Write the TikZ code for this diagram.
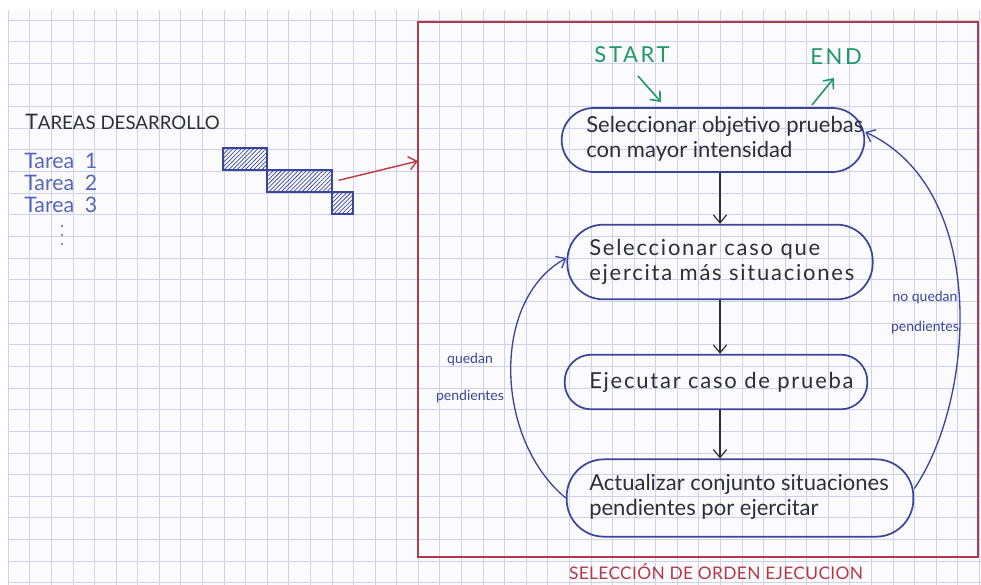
\documentclass[tikz,border=0pt]{standalone}
\usepackage{fontspec}
\setmainfont{Lato}
\usetikzlibrary{arrows.meta,patterns.meta,calc}

\definecolor{paper}{HTML}{FBFBFE}
\definecolor{gridc}{HTML}{CDD1EC}
\definecolor{framered}{HTML}{B23A48}
\definecolor{ink}{HTML}{3B4699}
\definecolor{pencil}{HTML}{2E2E36}
\definecolor{startgreen}{HTML}{1F9968}
\definecolor{tasks}{HTML}{5666BA}
\definecolor{arrowred}{HTML}{C23B42}

\begin{document}
\begin{tikzpicture}[x=0.75pt,y=-0.75pt,
  gridline/.style={draw=gridc, line width=0.7pt},
  bar/.style={draw=ink, line width=0.9pt, inner sep=0pt, minimum height=16.5pt,
    pattern={Lines[angle=45,distance=2.2pt,line width=0.55pt]}, pattern color=ink},
  box/.style={draw=ink, line width=1.3pt, inner sep=0pt},
  steptext/.style={anchor=west, align=left, inner sep=0pt, text=pencil,
    font=\fontsize{16.5}{19}\selectfont},
  widetext/.style={steptext, font=\fontsize{16.5}{19}\selectfont\addfontfeature{LetterSpace=8}},
  flow/.style={draw=pencil, line width=0.9pt, -{Straight Barb[length=6pt,width=10pt]}},
  loopback/.style={draw=ink, line width=1pt, -{Straight Barb[length=6pt,width=10pt]}},
  note/.style={text=ink, align=center},
  greenarrow/.style={draw=startgreen, line width=1.2pt, -{Straight Barb[length=6pt,width=10pt]}},
  greentext/.style={text=startgreen, font=\fontsize{16.5}{18}\selectfont\addfontfeature{LetterSpace=12}}
]
\useasboundingbox (0,0) rectangle (981,585);

% squared notebook paper
\fill[white] (0,0) rectangle (981,585);
\fill[paper] (8,10) rectangle (981,585);
\foreach \i in {0,...,45} {
  \draw[gridline] ({8.3+21.58*\i},10) -- ({8.3+21.58*\i},585);
}
\foreach \j in {0,...,26} {
  \draw[gridline] (8,{20+21.65*\j}) -- (981,{20+21.65*\j});
}

% development tasks
\node[anchor=west, text=pencil, inner sep=0pt, font=\fontsize{14}{16}\selectfont] (title) at (25,122)
  {{\fontsize{16}{16}\selectfont T}AREAS DESARROLLO};
\node[anchor=north west, text=tasks, align=left, inner sep=0pt,
  font=\fontsize{16}{16.5}\selectfont] (tasklist) at (24,153)
  {Tarea\enspace 1\\Tarea\enspace 2\\Tarea\enspace 3};
\foreach \y in {226,235,244} { \fill[tasks] (62,\y) circle (0.9pt); }

% schedule bars
\node[bar, minimum width=33pt] (t1) at (245,159) {};
\node[bar, minimum width=48.75pt] (t2) at (299.5,181) {};
\node[bar, minimum width=15.75pt] (t3) at (342.5,203) {};

% execution-order frame
\node[draw=framered, line width=1pt, inner sep=0pt,
  minimum width=420pt, minimum height=401.25pt] (frame) at (698,289.5) {};
\node[text=framered, inner sep=0pt, font=\fontsize{13}{15}\selectfont\addfontfeature{LetterSpace=2}] (framelabel) at (716,572)
  {SELECCIÓN DE ORDEN EJECUCION};
\coordinate (framein) at (418,161);
\draw[draw=arrowred, line width=1.1pt, -{Straight Barb[length=6pt,width=10pt]}]
  ([xshift=4.5pt,yshift=0.5pt]t2.east) -- (framein);

% flow steps
\node[box, minimum width=227pt, minimum height=48pt, rounded corners=24pt] (b1) at (713,140) {};
\node[box, minimum width=229pt, minimum height=56pt, rounded corners=27pt] (b2) at (720,262) {};
\node[box, minimum width=227pt, minimum height=41pt, rounded corners=20pt] (b3) at (716,382) {};
\node[box, minimum width=260pt, minimum height=58pt, rounded corners=28pt] (b4) at (740,498) {};
\node[steptext] (b1text) at (586,139) {Seleccionar objetivo pruebas\\con mayor intensidad};
\node[widetext] (b2text) at (589,262) {Seleccionar caso que\\ejercita más situaciones};
\node[widetext] (b3text) at (589,382) {Ejecutar caso de prueba};
\node[steptext] (b4text) at (589,497) {Actualizar conjunto situaciones\\pendientes por ejercitar};

\draw[flow] (b1.south -| b2.north) -- (b2.north);
\draw[flow] (b2.south) -- (b2.south |- b3.north);
\draw[flow] (b3.south -| b2.south) -- (b4.north -| b2.south);

% start / end markers
\node[greentext] (start) at (632,55) {START};
\node[greentext] (end) at (836,57) {END};
\coordinate (s0) at (638,76);
\coordinate (s1) at (661,102);
\coordinate (e0) at (812,105);
\coordinate (e1) at (834,78);
\draw[greenarrow] (s0) -- (s1);
\draw[greenarrow] (e0) -- (e1);

% loops back
\draw[loopback] (b4.west) .. controls (495,440) and (490,300) .. ([yshift=3pt]b2.west);
\draw[loopback] ([yshift=7pt]b4.east) .. controls (975,400) and (990,190) .. ([yshift=6pt]b1.east);
\node[note, font=\fontsize{10.5}{28}\selectfont] (lleft) at (470,378) {quedan\\pendientes};
\node[note, font=\fontsize{10.5}{22.5}\selectfont] (lright) at (925,313) {no quedan\\pendientes};
\end{tikzpicture}
\end{document}
